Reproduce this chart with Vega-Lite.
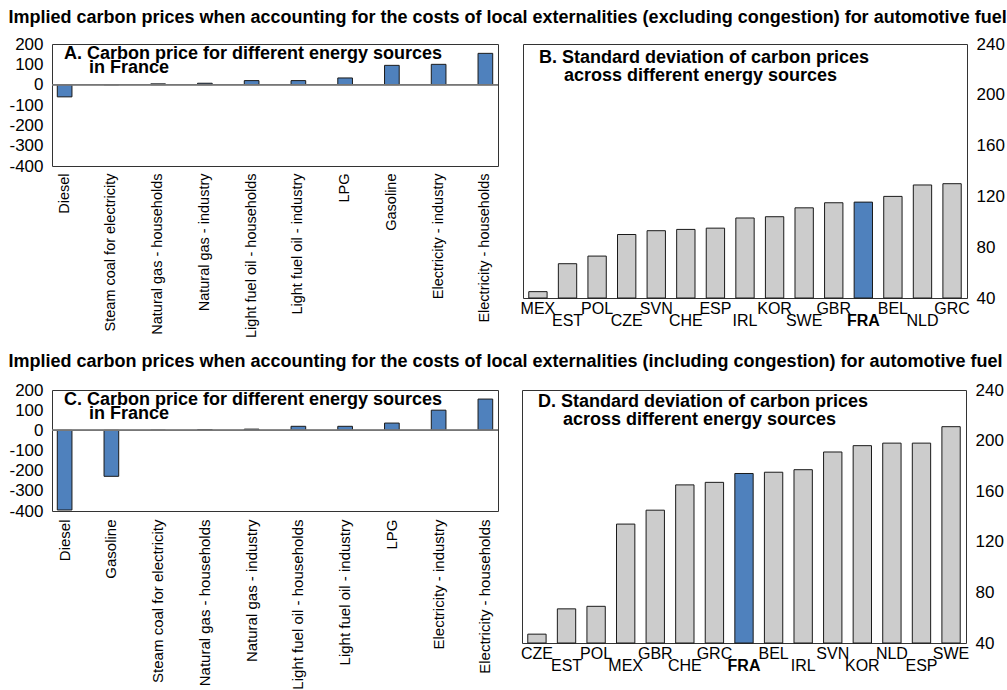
{
  "$schema": "https://vega.github.io/schema/vega-lite/v6.json",
  "padding": {"left": 8, "top": 8, "right": 0, "bottom": 0},
  "config": {
    "font": "Liberation Sans",
    "view": {"stroke": "#333333", "strokeWidth": 1},
    "axis": {"grid": false, "ticks": false, "domain": false, "labelColor": "#000000", "labelFont": "Liberation Sans", "title": null, "labelOverlap": false},
    "title": {"font": "Liberation Sans", "fontWeight": "bold", "color": "#000000", "anchor": "start"}
  },
  "spacing": 14,
  "vconcat": [
    {
      "title": {"text": "Implied carbon prices when accounting for the costs of local externalities (excluding congestion) for automotive fuel", "fontSize": 18, "offset": 8, "dx": 0},
      "spacing": 20,
      "hconcat": [
        {
          "width": 446, "height": 122,
          "title": {"text": ["A. Carbon price for different energy sources", "\u200b\u00a0\u00a0\u00a0\u00a0\u00a0in France"], "frame": "group", "fontSize": 18, "lineHeight": 14, "offset": -42, "dx": 12},
          "data": {"values": [
            {"source": "Diesel", "price": -60},
            {"source": "Steam coal for electricity", "price": 0},
            {"source": "Natural gas - households", "price": 4},
            {"source": "Natural gas - industry", "price": 7},
            {"source": "Light fuel oil - households", "price": 20},
            {"source": "Light fuel oil - industry", "price": 20},
            {"source": "LPG", "price": 33},
            {"source": "Gasoline", "price": 95},
            {"source": "Electricity - industry", "price": 100},
            {"source": "Electricity - households", "price": 154}
          ]},
          "layer": [
            {
              "mark": {"type": "bar", "fill": "#4f81bd", "stroke": "#1a1a1a", "strokeWidth": 1},
              "encoding": {
                "x": {"field": "source", "type": "nominal", "sort": null, "scale": {"paddingInner": 0.686, "paddingOuter": 0.113},
                      "axis": {"labelAngle": -90, "labelFontSize": 14.5, "labelPadding": 7, "labelLimit": 300}},
                "y": {"field": "price", "type": "quantitative", "scale": {"domain": [-400, 200], "nice": false},
                      "axis": {"values": [-400, -300, -200, -100, 0, 100, 200], "labelExpr": "'' + datum.value", "labelFontSize": 17, "labelPadding": 9, "labelOverlap": false}}
              }
            },
            {"mark": {"type": "rule", "color": "#777777", "strokeWidth": 1},
             "encoding": {"y": {"datum": 0, "type": "quantitative", "scale": {"domain": [-400, 200], "nice": false},
                                "axis": {"values": [-400, -300, -200, -100, 0, 100, 200], "labelExpr": "'' + datum.value", "labelFontSize": 17, "labelPadding": 9, "labelOverlap": false}}}}
          ]
        },
        {
          "width": 444, "height": 254,
          "title": {"text": ["B. Standard deviation of carbon prices", "\u200b\u00a0\u00a0\u00a0\u00a0\u00a0across different energy sources"], "frame": "group", "fontSize": 18, "lineHeight": 18, "offset": -50, "dx": 16},
          "data": {"values": [
            {"country": "MEX", "sd": 45},
            {"country": "EST", "sd": 67},
            {"country": "POL", "sd": 73},
            {"country": "CZE", "sd": 90},
            {"country": "SVN", "sd": 93},
            {"country": "CHE", "sd": 94},
            {"country": "ESP", "sd": 95},
            {"country": "IRL", "sd": 103},
            {"country": "KOR", "sd": 104},
            {"country": "SWE", "sd": 111},
            {"country": "GBR", "sd": 115},
            {"country": "FRA", "sd": 115.5},
            {"country": "BEL", "sd": 120},
            {"country": "NLD", "sd": 129},
            {"country": "GRC", "sd": 130}
          ]},
          "mark": {"type": "bar", "stroke": "#1a1a1a", "strokeWidth": 1},
          "encoding": {
            "x": {"field": "country", "type": "nominal", "sort": null, "scale": {"paddingInner": 0.38, "paddingOuter": 0.195},
                  "axis": {"labelAngle": 0, "labelFontSize": 16,
                           "labelPadding": {"condition": {"test": "indexof(['EST','CZE','CHE','IRL','SWE','FRA','NLD'], datum.value) >= 0", "value": 14}, "value": 2},
                           "labelFontWeight": {"condition": {"test": "datum.value === 'FRA'", "value": "bold"}, "value": "normal"}}},
            "y": {"field": "sd", "type": "quantitative", "scale": {"domain": [40, 240], "nice": false, "zero": false},
                  "axis": {"orient": "right", "values": [40, 80, 120, 160, 200, 240], "labelFontSize": 17, "labelPadding": 9, "labelOverlap": false}},
            "y2": {"datum": 40},
            "fill": {"condition": {"test": "datum.country === 'FRA'", "value": "#4f81bd"}, "value": "#cccccc"}
          }
        }
      ]
    },
    {
      "title": {"text": "Implied carbon prices when accounting for the costs of local externalities (including congestion) for automotive fuel", "fontSize": 18, "offset": 10, "dx": 0},
      "spacing": 20,
      "hconcat": [
        {
          "width": 446, "height": 121,
          "title": {"text": ["C. Carbon price for different energy sources", "\u200b\u00a0\u00a0\u00a0\u00a0\u00a0in France"], "frame": "group", "fontSize": 18, "lineHeight": 14, "offset": -42, "dx": 12},
          "data": {"values": [
            {"source": "Diesel", "price": -395},
            {"source": "Gasoline", "price": -228},
            {"source": "Steam coal for electricity", "price": 0},
            {"source": "Natural gas - households", "price": 3},
            {"source": "Natural gas - industry", "price": 6},
            {"source": "Light fuel oil - households", "price": 20},
            {"source": "Light fuel oil - industry", "price": 20},
            {"source": "LPG", "price": 36},
            {"source": "Electricity - industry", "price": 100},
            {"source": "Electricity - households", "price": 155}
          ]},
          "layer": [
            {
              "mark": {"type": "bar", "fill": "#4f81bd", "stroke": "#1a1a1a", "strokeWidth": 1},
              "encoding": {
                "x": {"field": "source", "type": "nominal", "sort": null, "scale": {"paddingInner": 0.686, "paddingOuter": 0.113},
                      "axis": {"labelAngle": -90, "labelFontSize": 15, "labelPadding": 8, "labelLimit": 300}},
                "y": {"field": "price", "type": "quantitative", "scale": {"domain": [-400, 200], "nice": false},
                      "axis": {"values": [-400, -300, -200, -100, 0, 100, 200], "labelExpr": "'' + datum.value", "labelFontSize": 17, "labelPadding": 9, "labelOverlap": false}}
              }
            },
            {"mark": {"type": "rule", "color": "#777777", "strokeWidth": 1},
             "encoding": {"y": {"datum": 0, "type": "quantitative", "scale": {"domain": [-400, 200], "nice": false},
                                "axis": {"values": [-400, -300, -200, -100, 0, 100, 200], "labelExpr": "'' + datum.value", "labelFontSize": 17, "labelPadding": 9, "labelOverlap": false}}}}
          ]
        },
        {
          "width": 444, "height": 253,
          "title": {"text": ["D. Standard deviation of carbon prices", "\u200b\u00a0\u00a0\u00a0\u00a0\u00a0across different energy sources"], "frame": "group", "fontSize": 18, "lineHeight": 18, "offset": -48, "dx": 16},
          "data": {"values": [
            {"country": "CZE", "sd": 47},
            {"country": "EST", "sd": 67},
            {"country": "POL", "sd": 69},
            {"country": "MEX", "sd": 134},
            {"country": "GBR", "sd": 145},
            {"country": "CHE", "sd": 165},
            {"country": "GRC", "sd": 167},
            {"country": "FRA", "sd": 174},
            {"country": "BEL", "sd": 175},
            {"country": "IRL", "sd": 177},
            {"country": "SVN", "sd": 191},
            {"country": "KOR", "sd": 196},
            {"country": "NLD", "sd": 198},
            {"country": "ESP", "sd": 198},
            {"country": "SWE", "sd": 211}
          ]},
          "mark": {"type": "bar", "stroke": "#1a1a1a", "strokeWidth": 1},
          "encoding": {
            "x": {"field": "country", "type": "nominal", "sort": null, "scale": {"paddingInner": 0.38, "paddingOuter": 0.195},
                  "axis": {"labelAngle": 0, "labelFontSize": 16,
                           "labelPadding": {"condition": {"test": "indexof(['EST','MEX','CHE','FRA','IRL','KOR','ESP'], datum.value) >= 0", "value": 14}, "value": 2},
                           "labelFontWeight": {"condition": {"test": "datum.value === 'FRA'", "value": "bold"}, "value": "normal"}}},
            "y": {"field": "sd", "type": "quantitative", "scale": {"domain": [40, 240], "nice": false, "zero": false},
                  "axis": {"orient": "right", "values": [40, 80, 120, 160, 200, 240], "labelFontSize": 17, "labelPadding": 9, "labelOverlap": false}},
            "y2": {"datum": 40},
            "fill": {"condition": {"test": "datum.country === 'FRA'", "value": "#4f81bd"}, "value": "#cccccc"}
          }
        }
      ]
    }
  ]
}
